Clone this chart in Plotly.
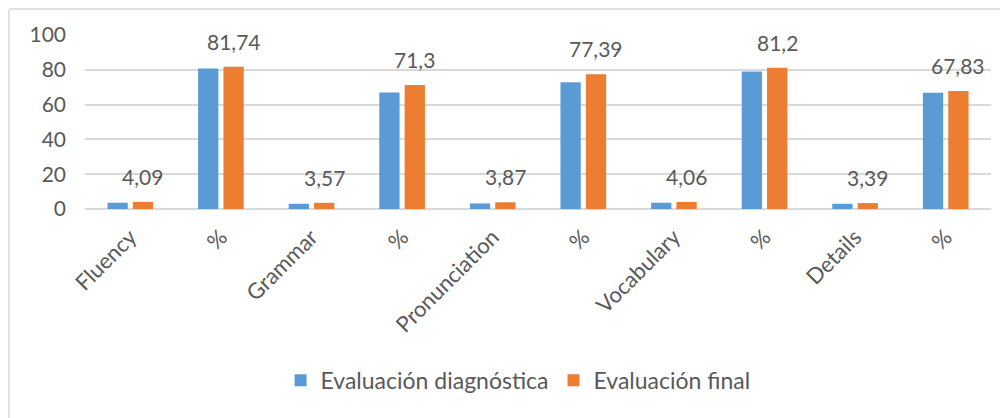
import plotly.graph_objects as go

categories = ["Fluency", "%", "Grammar", "%", "Pronunciation", "%", "Vocabulary", "%", "Details", "%"]
diagnostica = [3.6, 80.8, 3.0, 66.9, 3.2, 72.8, 3.6, 79.0, 3.0, 66.8]
final = [4.09, 81.74, 3.57, 71.3, 3.87, 77.39, 4.06, 81.2, 3.39, 67.83]
final_labels = ["4,09", "81,74", "3,57", "71,3", "3,87", "77,39", "4,06", "81,2", "3,39", "67,83"]
series_names = ["Evaluación diagnóstica", "Evaluación final"]
y_ticks = [0, 20, 40, 60, 80, 100]

BLUE = "#5B9BD5"
ORANGE = "#ED7D31"
TXT = "#595959"
GRID = "#D9D9D9"
FONT = "Lato"
BARGAP = 0.44

xs = list(range(len(categories)))

fig = go.Figure()
fig.add_trace(go.Bar(x=xs, y=diagnostica, name=series_names[0], marker=dict(color=BLUE, line=dict(width=0))))
fig.add_trace(go.Bar(x=xs, y=final, name=series_names[1], marker=dict(color=ORANGE, line=dict(width=0))))

offset = (1 - BARGAP) / 4
for x, v, t in zip(xs, final, final_labels):
    fig.add_annotation(x=x + offset, y=v, text=t, showarrow=False, yanchor="bottom",
                       yshift=11, font=dict(family=FONT, size=21, color=TXT))

# figure is placed by the page at an 8px offset
L, T, PW, PH = 77, 27, 906, 174
W, H = 1000, 410
fig.update_layout(
    width=W, height=H,
    margin=dict(l=L, r=W - L - PW, t=T, b=H - T - PH),
    paper_bgcolor="white", plot_bgcolor="white",
    barmode="group", bargap=BARGAP, bargroupgap=0.2,
    font=dict(family=FONT, size=20, color=TXT),
    showlegend=True,
    legend=dict(orientation="h", x=0.478, xanchor="center", y=-0.985, yanchor="middle",
                font=dict(family=FONT, size=23, color=TXT), itemwidth=30, traceorder="normal"),
    xaxis=dict(tickmode="array", tickvals=xs, ticktext=categories, tickangle=-45,
               range=[-0.5, len(categories) - 0.5], showgrid=False, zeroline=False,
               showline=False, ticks="", ticklabelstandoff=10,
               tickfont=dict(family=FONT, size=22, color=TXT)),
    yaxis=dict(range=[0, 100], tickvals=y_ticks, showgrid=True, gridcolor=GRID, gridwidth=1.5,
               zeroline=True, zerolinecolor=GRID, zerolinewidth=1.5, showline=False,
               ticks="", ticklabelstandoff=18, tickfont=dict(family=FONT, size=21, color=TXT)),
    shapes=[
        dict(type="line", xref="paper", yref="paper", x0=(1 - L) / PW, x1=1.05,
             y0=(PH + T - 1) / PH, y1=(PH + T - 1) / PH, line=dict(color=GRID, width=1.5)),
        dict(type="line", xref="paper", yref="paper", x0=(1 - L) / PW, x1=(1 - L) / PW,
             y0=(PH + T - 1) / PH, y1=-1.4, line=dict(color=GRID, width=1.5)),
    ],
)

fig.write_html("out.html")
